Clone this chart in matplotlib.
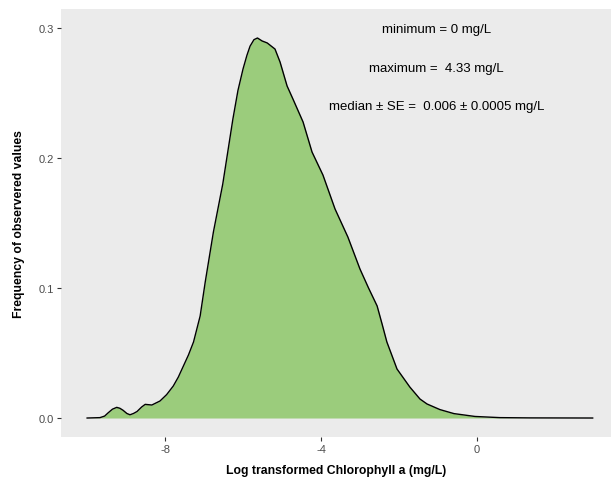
import matplotlib
matplotlib.use("Agg")
import matplotlib.pyplot as plt

plt.rcParams['font.family'] = ['Liberation Sans', 'DejaVu Sans']

# density curve (log chl a, density)
log_chl = [-10.00, -9.67, -9.55, -9.46, -9.35, -9.24, -9.16, -9.08, -8.98, -8.90,
           -8.81, -8.72, -8.60, -8.51, -8.34, -8.13, -7.96, -7.79, -7.66, -7.53,
           -7.40, -7.27, -7.10, -6.97, -6.76, -6.52, -6.39, -6.26, -6.13, -6.00,
           -5.90, -5.82, -5.72, -5.63, -5.51, -5.38, -5.18, -5.05, -4.87, -4.72,
           -4.46, -4.23, -3.95, -3.64, -3.31, -3.00, -2.78, -2.56, -2.43, -2.31,
           -2.05, -1.72, -1.46, -1.28, -0.95, -0.59, -0.05, 0.59, 1.36, 2.97]
density = [0.0, 0.0003, 0.0015, 0.004, 0.0068, 0.0082, 0.0075, 0.006, 0.0035, 0.0025,
           0.0035, 0.005, 0.0085, 0.0105, 0.0100, 0.0131, 0.0180, 0.0246, 0.0315, 0.0400,
           0.0485, 0.0585, 0.0785, 0.1046, 0.1431, 0.1800, 0.2050, 0.2300, 0.2520, 0.2685,
           0.2790, 0.2860, 0.2910, 0.2923, 0.2900, 0.2885, 0.2838, 0.2738, 0.2554, 0.2454,
           0.2277, 0.2046, 0.1869, 0.1608, 0.1392, 0.1146, 0.1000, 0.0862, 0.0720, 0.0585,
           0.0377, 0.0238, 0.0146, 0.0108, 0.0065, 0.0034, 0.0012, 0.0003, 0.0001, 0.0]

x_ticks = [-8, -4, 0]
y_ticks = [0.0, 0.1, 0.2, 0.3]
notes = ["minimum = 0 mg/L",
         "maximum =  4.33 mg/L",
         "median \u00b1 SE =  0.006 \u00b1 0.0005 mg/L"]
note_y = [0.299, 0.269, 0.240]

fig = plt.figure(figsize=(6.11, 4.81), dpi=100)
ax = fig.add_axes([61/611, 43/481, 550/611, 428/481])
ax.set_facecolor('#EBEBEB')
for s in ax.spines.values():
    s.set_visible(False)

ax.fill_between(log_chl, density, 0, color='#9BCC7C', lw=0)
ax.plot(log_chl, density, color='black', lw=1.0)

for t, yy in zip(notes, note_y):
    ax.text(-1.03, yy, t, ha='center', va='center', fontsize=9.5, color='black')

ax.set_xlim(-10.67, 3.44)
ax.set_ylim(-0.0146, 0.3146)
ax.set_xticks(x_ticks)
ax.set_xticklabels([str(v) for v in x_ticks])
ax.set_yticks(y_ticks)
ax.set_yticklabels(["%.1f" % v for v in y_ticks])
ax.tick_params(axis='both', colors='#333333', labelcolor='#4D4D4D', labelsize=8,
               length=3, width=0.8, pad=2)

ax.set_xlabel('Log transformed Chlorophyll a (mg/L)', fontsize=8.8, fontweight='bold', labelpad=7)
ax.set_ylabel('Frequency of observered values', fontsize=8.8, fontweight='bold', labelpad=10)

fig.savefig('out.png', dpi=100)
